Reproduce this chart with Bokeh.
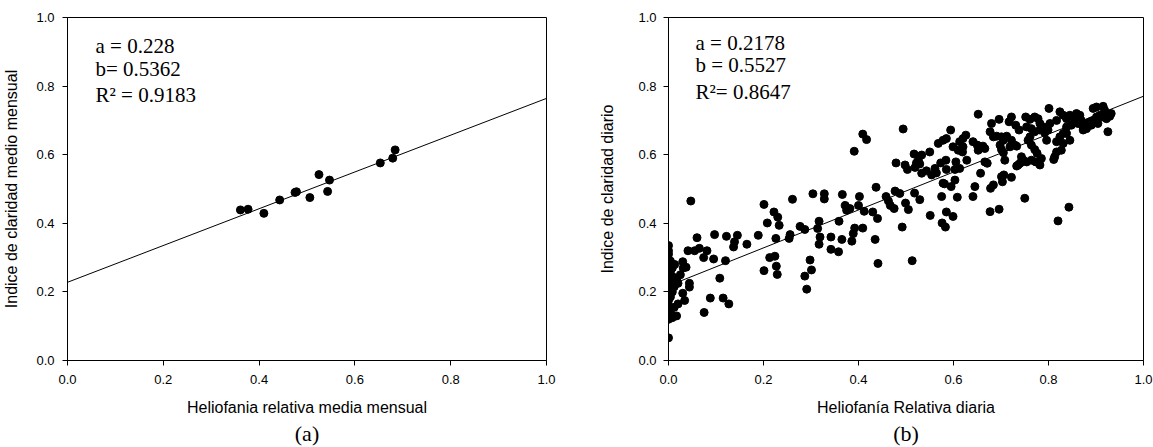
import numpy as np
from bokeh.plotting import figure
from bokeh.layouts import row
from bokeh.models import Label, FixedTicker, NumeralTickFormatter, Range1d, Title
from bokeh.embed import file_html
from bokeh.resources import INLINE

# ---------------- data ----------------
ticks = [0.0, 0.2, 0.4, 0.6, 0.8, 1.0]

# (a) monthly means
monthly_x = [0.361, 0.377, 0.410, 0.443, 0.475, 0.478, 0.506, 0.525, 0.547, 0.543, 0.653, 0.679, 0.684]
monthly_y = [0.439, 0.441, 0.429, 0.468, 0.490, 0.492, 0.475, 0.542, 0.526, 0.493, 0.576, 0.590, 0.614]
a_month = 0.228
b_month = 0.5362
r2_month = 0.9183

# (b) daily values
daily_pts = [
    (0.0, 0.066), (0.0, 0.12), (0.0, 0.13), (0.0, 0.145), (0.0, 0.16), (0.0, 0.175), (0.0, 0.19),
    (0.0, 0.205), (0.0, 0.22), (0.0, 0.235), (0.0, 0.25), (0.0, 0.265), (0.0, 0.28), (0.0, 0.295),
    (0.0, 0.31), (0.0, 0.32), (0.0, 0.335),
    (0.004, 0.14), (0.004, 0.185), (0.004, 0.23), (0.004, 0.26), (0.004, 0.29),
    (0.008, 0.125), (0.008, 0.2), (0.008, 0.245), (0.008, 0.27),
    (0.012, 0.155), (0.012, 0.215), (0.013, 0.28),
    (0.017, 0.13), (0.018, 0.24), (0.02, 0.165), (0.02, 0.225),
    (0.025, 0.25), (0.03, 0.288), (0.031, 0.27), (0.037, 0.272), (0.03, 0.196), (0.034, 0.175),
    (0.041, 0.32), (0.044, 0.225), (0.044, 0.214), (0.047, 0.465),
    (0.06, 0.358), (0.055, 0.32), (0.065, 0.327), (0.074, 0.30), (0.081, 0.32), (0.075, 0.14),
    (0.095, 0.296), (0.097, 0.367), (0.088, 0.182),
    (0.108, 0.24), (0.115, 0.182), (0.12, 0.291), (0.122, 0.362), (0.127, 0.165),
    (0.137, 0.331), (0.139, 0.346), (0.145, 0.365), (0.165, 0.339),
    (0.189, 0.365), (0.201, 0.262), (0.201, 0.455), (0.208, 0.401),
    (0.213, 0.300), (0.224, 0.304), (0.222, 0.433), (0.230, 0.418), (0.233, 0.394), (0.226, 0.356),
    (0.227, 0.275), (0.229, 0.251),
    (0.254, 0.356), (0.256, 0.367), (0.261, 0.470),
    (0.277, 0.391), (0.287, 0.382), (0.287, 0.246), (0.291, 0.208), (0.298, 0.293), (0.301, 0.264),
    (0.304, 0.486), (0.314, 0.385), (0.317, 0.406), (0.319, 0.360), (0.317, 0.339), (0.328, 0.486),
    (0.328, 0.471),
    (0.342, 0.360), (0.342, 0.324), (0.358, 0.317), (0.359, 0.406), (0.365, 0.353), (0.366, 0.484),
    (0.372, 0.452), (0.375, 0.438), (0.382, 0.443), (0.386, 0.348), (0.389, 0.370), (0.392, 0.386),
    (0.400, 0.452), (0.402, 0.478), (0.409, 0.386), (0.412, 0.435),
    (0.430, 0.433), (0.435, 0.353), (0.437, 0.505), (0.440, 0.414), (0.441, 0.283),
    (0.458, 0.478), (0.463, 0.465), (0.467, 0.452), (0.475, 0.443), (0.477, 0.494), (0.487, 0.487),
    (0.492, 0.389),
    (0.499, 0.459), (0.505, 0.440), (0.513, 0.291), (0.518, 0.488), (0.529, 0.469),
    (0.551, 0.423), (0.575, 0.478), (0.576, 0.401), (0.583, 0.389), (0.585, 0.433), (0.581, 0.515),
    (0.595, 0.507), (0.599, 0.420), (0.608, 0.476),
    (0.391, 0.610), (0.409, 0.660), (0.417, 0.644), (0.494, 0.675),
    (0.479, 0.576), (0.498, 0.570), (0.503, 0.557),
    (0.517, 0.602), (0.526, 0.584), (0.519, 0.563), (0.533, 0.599), (0.529, 0.573), (0.522, 0.576),
    (0.533, 0.546), (0.543, 0.553), (0.554, 0.541), (0.561, 0.560), (0.564, 0.547),
    (0.550, 0.608), (0.573, 0.576), (0.584, 0.584),
    (0.568, 0.633), (0.578, 0.642), (0.585, 0.647), (0.594, 0.672),
    (0.578, 0.517), (0.603, 0.526),
    (0.585, 0.557), (0.603, 0.557), (0.613, 0.560), (0.605, 0.579), (0.628, 0.584),
    (0.599, 0.623), (0.613, 0.638), (0.620, 0.623), (0.610, 0.613), (0.626, 0.657), (0.620, 0.647),
    (0.619, 0.608),
    (0.641, 0.638), (0.650, 0.628), (0.652, 0.613), (0.645, 0.507), (0.641, 0.478), (0.652, 0.718),
    (0.662, 0.625), (0.666, 0.618), (0.657, 0.546), (0.666, 0.579), (0.671, 0.575),
    (0.677, 0.434), (0.696, 0.441), (0.678, 0.502), (0.684, 0.512),
    (0.677, 0.667), (0.680, 0.691), (0.696, 0.703),
    (0.684, 0.652), (0.691, 0.654), (0.701, 0.652), (0.705, 0.642),
    (0.698, 0.628), (0.701, 0.615), (0.705, 0.606), (0.708, 0.584),
    (0.701, 0.536), (0.706, 0.541), (0.703, 0.521), (0.722, 0.534),
    (0.717, 0.696), (0.722, 0.710), (0.731, 0.686), (0.738, 0.672),
    (0.712, 0.654), (0.722, 0.642), (0.729, 0.628), (0.719, 0.623), (0.733, 0.625),
    (0.743, 0.594), (0.736, 0.570), (0.743, 0.579), (0.750, 0.473),
    (0.752, 0.710), (0.761, 0.703), (0.771, 0.710), (0.778, 0.705), (0.782, 0.691),
    (0.754, 0.681), (0.764, 0.676), (0.771, 0.667), (0.761, 0.652), (0.782, 0.672), (0.789, 0.681),
    (0.757, 0.642), (0.764, 0.628), (0.771, 0.615), (0.776, 0.604), (0.785, 0.589),
    (0.747, 0.584), (0.754, 0.579), (0.764, 0.584), (0.773, 0.579), (0.782, 0.570),
    (0.733, 0.567), (0.740, 0.575), (0.801, 0.735),
    (0.792, 0.664), (0.799, 0.672), (0.796, 0.642), (0.811, 0.586), (0.820, 0.407), (0.843, 0.447),
    (0.827, 0.613), (0.831, 0.633),
    (0.817, 0.638), (0.824, 0.652), (0.831, 0.662), (0.817, 0.608), (0.813, 0.594),
    (0.803, 0.691), (0.817, 0.700), (0.824, 0.725), (0.831, 0.715), (0.838, 0.705), (0.845, 0.715),
    (0.852, 0.710), (0.859, 0.720), (0.866, 0.715),
    (0.838, 0.681), (0.848, 0.686), (0.855, 0.696), (0.862, 0.691), (0.869, 0.700), (0.873, 0.681),
    (0.880, 0.691), (0.887, 0.696), (0.894, 0.700), (0.901, 0.710), (0.908, 0.715), (0.915, 0.710),
    (0.922, 0.705), (0.929, 0.712), (0.932, 0.720),
    (0.894, 0.735), (0.901, 0.739), (0.915, 0.741), (0.918, 0.730),
    (0.845, 0.642), (0.838, 0.662), (0.873, 0.672), (0.880, 0.676), (0.890, 0.686), (0.904, 0.691),
    (0.925, 0.667),
]
daily_x = [p[0] for p in daily_pts]
daily_y = [p[1] for p in daily_pts]
a_day = 0.2178
b_day = 0.5527
r2_day = 0.8647

fit_x = [0.0, 1.0]

SANS = "Liberation Sans"
SERIF = "Liberation Serif"


def make_panel(width, height, bl, br, bt, bb, xlabel, ylabel, ytick_standoff, ylabel_standoff, panel_tag):
    p = figure(width=width, height=height, x_range=Range1d(0, 1), y_range=Range1d(0, 1),
               output_backend="svg", toolbar_location=None, title=None,
               min_border_left=bl, min_border_right=br, min_border_top=bt, min_border_bottom=bb)
    p.grid.visible = False
    p.outline_line_color = "black"
    p.outline_line_width = 1
    p.background_fill_color = "white"
    p.border_fill_color = "white"
    for ax in (p.xaxis[0], p.yaxis[0]):
        ax.ticker = FixedTicker(ticks=ticks)
        ax.formatter = NumeralTickFormatter(format="0.0")
        ax.major_label_text_font = SANS
        ax.major_label_text_font_size = "13px"
        ax.major_label_text_color = "black"
        ax.major_tick_out = 5
        ax.major_tick_in = 0
        ax.minor_tick_out = 0
        ax.minor_tick_in = 0
        ax.axis_line_color = "black"
        ax.major_tick_line_color = "black"
        ax.axis_label_text_font = SANS
        ax.axis_label_text_font_size = "16px"
        ax.axis_label_text_font_style = "normal"
        ax.axis_label_text_color = "black"
    p.xaxis.major_label_standoff = 9
    p.yaxis.major_label_standoff = ytick_standoff
    p.xaxis.axis_label = xlabel
    p.xaxis.axis_label_standoff = 12
    p.yaxis.axis_label = ylabel
    p.yaxis.axis_label_standoff = ylabel_standoff
    p.add_layout(Title(text=panel_tag, align="center", text_font=SERIF, text_font_size="22px",
                       text_font_style="normal", text_color="black", standoff=1), "below")
    return p


p1 = make_panel(590, 447, 67, 44, 14, 87, "Heliofania relativa media mensual",
                "Indice de claridad medio mensual", 8, 13, "(a)")
p1.scatter(monthly_x, monthly_y, marker="circle", size=8, color="black")
p1.line(fit_x, [a_month + b_month * x for x in fit_x], line_color="black", line_width=1)

p2 = make_panel(563, 447, 78, 10, 17, 86, "Heliofanía Relativa diaria",
                "Indice de claridad diario", 7, 19, "(b)")
p2.scatter(daily_x, daily_y, marker="circle", size=8, color="black")
p2.line(fit_x, [a_day + b_day * x for x in fit_x], line_color="black", line_width=1)

# frame sizes (px) used to place the in-frame coefficient labels
FW1, FH1 = 479, 346
FW2, FH2 = 475, 344


def add_text(p, x, y, txt):
    p.add_layout(Label(x=x, y=y, text=txt, text_font=SERIF, text_font_size="21px",
                       text_align="left", text_baseline="alphabetic", text_color="black"))


add_text(p1, 28 / FW1, 1 - 28.3 / FH1, f"a = {a_month}")
add_text(p1, 28 / FW1, 1 - 51.7 / FH1, f"b= {b_month}")
add_text(p1, 28 / FW1, 1 - 77.7 / FH1, f"R\u00b2 = {r2_month}")

add_text(p2, 27 / FW2, 1 - 25.3 / FH2, f"a = {a_day}")
add_text(p2, 27 / FW2, 1 - 48 / FH2, f"b = {b_day}")
add_text(p2, 27 / FW2, 1 - 74.7 / FH2, f"R\u00b2= {r2_day}")

layout = row(p1, p2)
open("out.html", "w").write(file_html(layout, INLINE))
